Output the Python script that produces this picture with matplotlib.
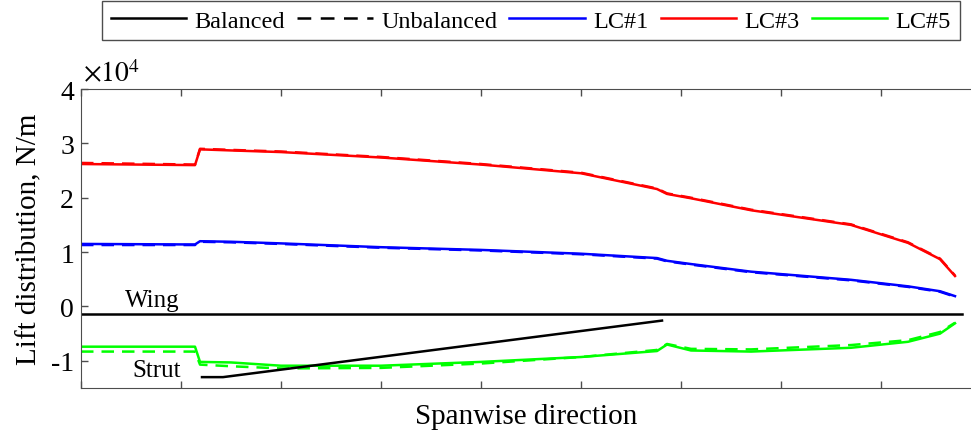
import matplotlib
matplotlib.use("Agg")
import matplotlib.pyplot as plt

# spanwise position (arbitrary units, one unit per x tick)
span = [0, 1.14, 1.19, 1.5, 2.0, 3.0, 4.0, 5.0, 5.76, 5.86, 6.1, 6.7, 7.7, 8.27, 8.59, 8.74]

# lift distribution, x1e4 N/m
lc1_bal = [1.15, 1.14, 1.20, 1.19, 1.16, 1.09, 1.04, 0.97, 0.89, 0.84, 0.78, 0.64, 0.49, 0.37, 0.28, 0.19]
lc1_unb = [1.13, 1.13, 1.19, 1.18, 1.15, 1.08, 1.03, 0.96, 0.88, 0.83, 0.77, 0.63, 0.48, 0.36, 0.27, 0.18]
lc3_bal = [2.62, 2.60, 2.89, 2.87, 2.84, 2.74, 2.61, 2.45, 2.16, 2.07, 1.99, 1.77, 1.50, 1.17, 0.87, 0.56]
lc3_unb = [2.64, 2.61, 2.90, 2.88, 2.85, 2.75, 2.62, 2.46, 2.17, 2.08, 2.00, 1.78, 1.51, 1.18, 0.88, 0.57]
lc5_bal = [-0.74, -0.74, -1.02, -1.03, -1.09, -1.09, -1.02, -0.93, -0.82, -0.70, -0.81, -0.83, -0.76, -0.65, -0.50, -0.31]
lc5_unb = [-0.83, -0.83, -1.07, -1.10, -1.14, -1.13, -1.05, -0.93, -0.80, -0.69, -0.78, -0.79, -0.71, -0.62, -0.47, -0.30]

wing_x = [0, 8.81]
wing_y = [-0.14, -0.14]
strut_x = [1.21, 1.42, 5.81]
strut_y = [-1.30, -1.30, -0.26]

plt.rcParams['font.family'] = ['Liberation Serif', 'DejaVu Serif']
plt.rcParams['mathtext.fontset'] = 'stix'
plt.rcParams['axes.unicode_minus'] = False

fig = plt.figure(figsize=(9.71, 4.39), dpi=100)
ax = fig.add_axes([81/971, 1 - 389/439, 1 - 81/971, (389 - 90)/439])

lw = 1.8
dash = (0, (5.0, 3.2))
ax.plot(span, lc1_bal, color='#0000ff', lw=lw)
ax.plot(span, lc1_unb, color='#0000ff', lw=lw, ls=dash)
ax.plot(span, lc3_bal, color='#ff0000', lw=lw)
ax.plot(span, lc3_unb, color='#ff0000', lw=lw, ls=dash)
ax.plot(span, lc5_bal, color='#00ff00', lw=lw)
ax.plot(span, lc5_unb, color='#00ff00', lw=lw, ls=dash)
ax.plot(wing_x, wing_y, color='black', lw=lw)
ax.plot(strut_x, strut_y, color='black', lw=lw)

ax.text(0.71, -0.08, 'Wing', fontsize=18, ha='center', va='bottom')
ax.text(0.76, -1.17, 'Strut', fontsize=18, ha='center', va='center')

ax.set_xlim(0, 8.9)
ax.set_ylim(-1.5, 4)
ax.set_xticks(range(0, 9))
ax.set_xticklabels([])
ax.set_yticks([-1, 0, 1, 2, 3, 4])
ax.set_yticklabels(['-1', '0', '1', '2', '3', '4'])
ax.tick_params(direction='in', length=5, width=1, color='0.3', labelsize=20,
               top=True, right=False, pad=5)
for side in ['left', 'bottom', 'top']:
    ax.spines[side].set_color('0.3')
ax.spines['right'].set_visible(False)

ax.text(0.002, 1.005, r'$\times 10^{4}$', transform=ax.transAxes, fontsize=20,
        ha='left', va='bottom')
ax.set_xlabel('Spanwise direction', fontsize=21, labelpad=6)
ax.set_ylabel('Lift distribution, N/m', fontsize=21, labelpad=6)

handles = [
    plt.Line2D([], [], color='black', lw=lw),
    plt.Line2D([], [], color='black', lw=lw, ls=(0, (5.5, 3.8))),
    plt.Line2D([], [], color='#0000ff', lw=lw),
    plt.Line2D([], [], color='#ff0000', lw=lw),
    plt.Line2D([], [], color='#00ff00', lw=lw),
]
labels = ['Balanced', 'Unbalanced', 'LC#1', 'LC#3', 'LC#5']
leg = fig.legend(handles, labels, loc='upper center', bbox_to_anchor=(531/971, 1 - 2/439),
                 ncol=5, fontsize=17.5, handlelength=3.1, columnspacing=0.5,
                 handletextpad=0.35, fancybox=False, framealpha=1,
                 borderpad=0.35, borderaxespad=0)
leg.get_frame().set_edgecolor('0.3')
leg.get_frame().set_linewidth(1.0)

fig.savefig('out.png', dpi=100)
